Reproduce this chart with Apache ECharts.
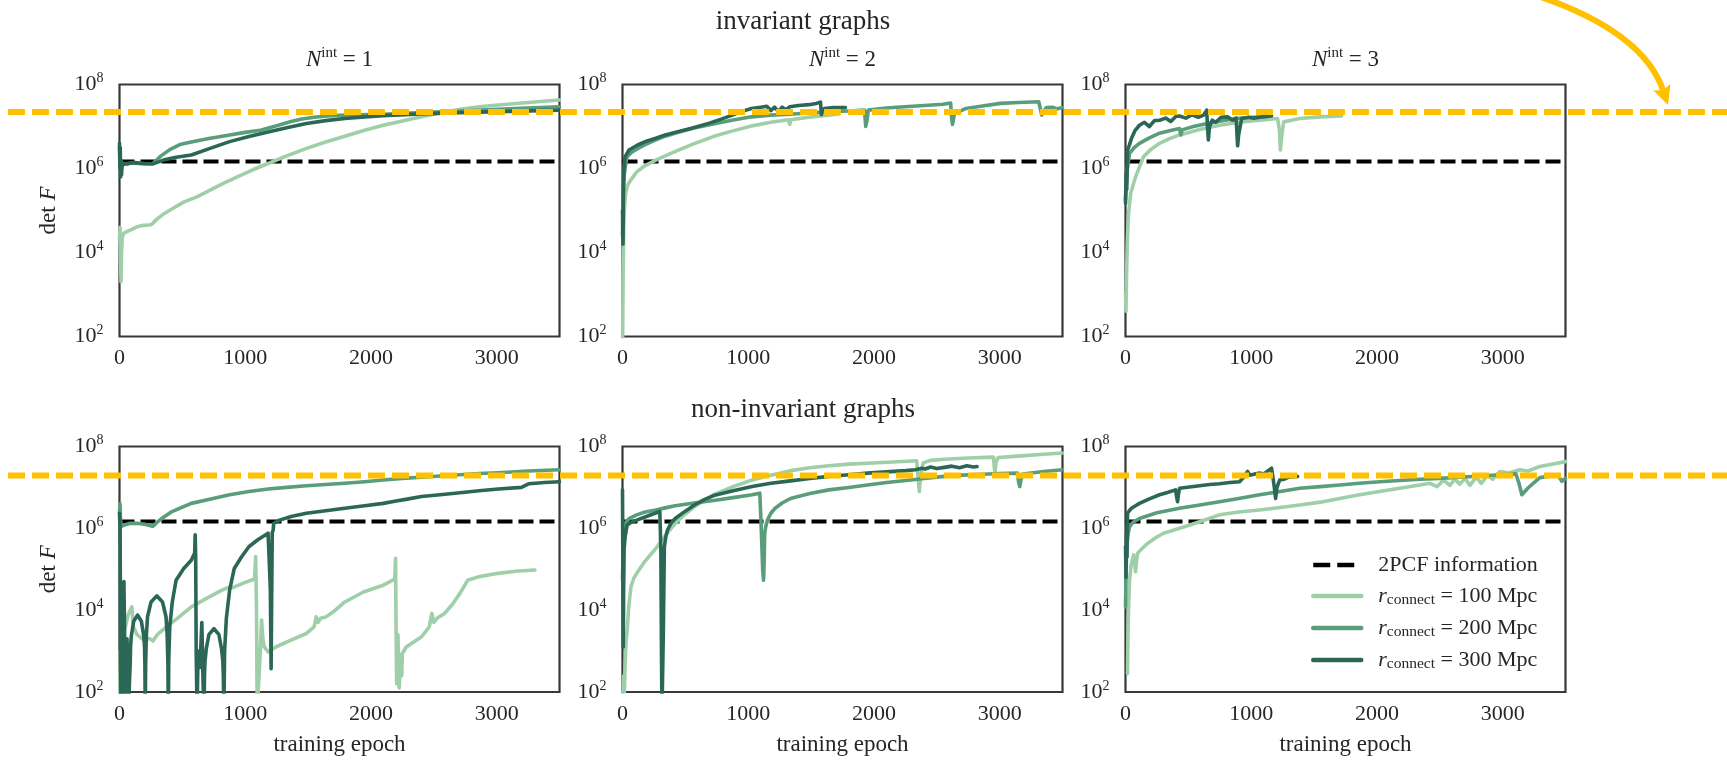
<!DOCTYPE html>
<html><head><meta charset="utf-8">
<script src="https://cdn.jsdelivr.net/npm/echarts/dist/echarts.min.js"></script>
<style>html,body{margin:0;padding:0;background:#fff}#c{width:1727px;height:760px}</style>
</head><body><div id="c"></div>
<script>
// ---------------- DATA (epoch, log10 det F) ----------------
const X_TICKS = [0, 1000, 2000, 3000];
const X_MAX = 3500;
const Y_TICK_EXPONENTS = [2, 4, 6, 8];
const ROW_TITLES = ['invariant graphs', 'non-invariant graphs'];
const N_INT = ['1', '2', '3'];
const SERIES_KEYS = ['r100', 'r200', 'r300'];
const R_CONNECT_MPC = { r100: '100', r200: '200', r300: '300' };
const PCF_NAME = '2PCF information';
const LOG10_2PCF = 6.165;
const LOG10_HIGHLIGHT = [7.345, 7.29]; // yellow dashed reference level, per row

// invariant graphs, N_int = 1
const INV1_R100 = [[0,4.3],[4,4.6],[8,3.9],[12,3.3],[16,4.0],[22,4.35],[30,4.45],[45,4.45],[60,4.5],[98,4.55],[130,4.6],[174,4.64],[250,4.66],[266,4.7],[300,4.8],[357,4.93],[430,5.06],[510,5.2],[620,5.33],[724,5.49],[830,5.65],[937,5.8],[1060,5.97],[1182,6.12],[1330,6.3],[1487,6.48],[1640,6.63],[1792,6.77],[1950,6.91],[2098,7.03],[2250,7.13],[2403,7.23],[2550,7.32],[2708,7.41],[2860,7.47],[3014,7.51],[3250,7.57],[3500,7.63]];
const INV1_R200 = [[0,6.5],[3,6.3],[6,6.0],[10,6.2],[15,6.05],[25,6.12],[60,6.1],[100,6.14],[150,6.12],[200,6.11],[266,6.12],[330,6.3],[400,6.45],[480,6.57],[571,6.63],[700,6.71],[876,6.8],[1000,6.86],[1121,6.91],[1250,7.02],[1365,7.12],[1450,7.18],[1548,7.22],[1650,7.25],[1792,7.27],[2098,7.29],[2400,7.33],[2708,7.37],[3100,7.42],[3500,7.47]];
const INV1_R300 = [[0,6.6],[3,6.0],[6,6.5],[9,5.8],[12,6.2],[16,5.85],[20,6.05],[30,6.1],[60,6.12],[120,6.14],[200,6.12],[266,6.11],[350,6.2],[450,6.27],[571,6.32],[720,6.48],[876,6.64],[1030,6.76],[1182,6.87],[1330,6.97],[1487,7.07],[1640,7.14],[1792,7.19],[1950,7.23],[2098,7.26],[2400,7.3],[2708,7.33],[3100,7.36],[3500,7.39]];

// invariant graphs, N_int = 2
const INV2_R100 = [[0,1.5],[5,3.5],[10,4.6],[16,5.1],[25,5.4],[40,5.6],[67,5.73],[113,5.92],[180,6.07],[265,6.2],[340,6.3],[417,6.4],[560,6.58],[722,6.76],[870,6.89],[1026,7.01],[1180,7.1],[1320,7.16],[1331,7.05],[1340,7.16],[1480,7.22],[1636,7.27],[1720,7.3]];
const INV2_R200 = [[0,4.4],[5,5.3],[10,5.7],[15,5.88],[25,6.1],[37,6.28],[70,6.38],[113,6.46],[180,6.57],[265,6.68],[340,6.77],[417,6.84],[560,6.96],[722,7.06],[870,7.15],[1026,7.23],[1180,7.27],[1331,7.29],[1480,7.32],[1636,7.35],[1800,7.37],[1925,7.39],[1935,7.0],[1945,7.15],[1955,7.39],[2100,7.44],[2245,7.47],[2400,7.5],[2549,7.53],[2610,7.56],[2618,7.2],[2625,7.05],[2640,7.3],[2732,7.43],[2850,7.48],[3006,7.55],[3150,7.57],[3311,7.59],[3325,7.59],[3335,7.27],[3345,7.35],[3372,7.45],[3420,7.46],[3460,7.42],[3500,7.45]];
const INV2_R300 = [[0,5.0],[4,4.2],[8,5.6],[12,6.0],[21,6.28],[52,6.44],[120,6.56],[190,6.65],[265,6.72],[340,6.8],[417,6.86],[550,6.96],[691,7.08],[780,7.17],[874,7.27],[950,7.36],[1026,7.43],[1100,7.46],[1148,7.48],[1180,7.38],[1210,7.46],[1240,7.36],[1270,7.46],[1300,7.4],[1331,7.47],[1400,7.5],[1483,7.52],[1540,7.55],[1575,7.58],[1582,7.28],[1590,7.4],[1606,7.43],[1680,7.45],[1773,7.45]];

// invariant graphs, N_int = 3
const INV3_R100 = [[0,3.0],[4,2.6],[8,3.4],[14,4.2],[22,4.85],[41,5.41],[80,5.8],[143,6.28],[200,6.45],[271,6.6],[350,6.71],[430,6.8],[590,6.93],[748,7.03],[900,7.1],[1067,7.15],[1210,7.19],[1225,6.9],[1232,6.44],[1240,6.7],[1258,7.11],[1320,7.15],[1385,7.19],[1550,7.23],[1720,7.25]];
const INV3_R200 = [[0,5.25],[6,5.6],[15,6.0],[32,6.36],[70,6.5],[111,6.6],[190,6.73],[271,6.84],[350,6.9],[430,6.95],[440,6.8],[450,6.92],[540,7.0],[653,7.07],[760,7.13],[876,7.19],[970,7.21],[1067,7.23],[1130,7.24]];
const INV3_R300 = [[0,5.17],[5,5.9],[10,5.5],[16,6.44],[30,6.55],[48,6.72],[75,6.9],[111,7.03],[150,7.1],[190,7.0],[230,7.14],[271,7.15],[320,7.2],[360,7.12],[400,7.24],[430,7.25],[480,7.2],[530,7.28],[580,7.22],[621,7.27],[646,7.39],[652,7.0],[659,6.68],[668,7.0],[690,7.15],[717,7.1],[760,7.22],[812,7.23],[850,7.15],[880,7.2],[892,6.54],[900,6.8],[924,7.19],[980,7.22],[1020,7.2],[1067,7.22],[1120,7.24],[1162,7.25]];

// non-invariant graphs, N_int = 1
const NON1_R100 = [[0,1.5],[5,3.0],[10,1.5],[16,3.3],[25,2.8],[40,3.5],[70,3.9],[98,4.08],[110,3.6],[140,3.4],[180,3.3],[205,3.31],[240,3.3],[266,3.25],[300,3.4],[357,3.55],[460,3.8],[571,4.08],[700,4.3],[815,4.49],[876,4.57],[900,4.55],[1000,4.68],[1075,4.76],[1083,5.31],[1090,4.0],[1095,1.5],[1110,1.5],[1120,3.0],[1130,3.76],[1140,3.3],[1151,3.1],[1182,2.98],[1243,3.1],[1350,3.25],[1487,3.43],[1548,3.59],[1565,3.84],[1579,3.7],[1600,3.8],[1640,3.83],[1701,3.96],[1792,4.2],[1945,4.45],[2098,4.61],[2189,4.76],[2196,5.27],[2200,3.5],[2205,2.2],[2215,3.4],[2225,2.1],[2235,2.9],[2245,2.4],[2250,2.94],[2281,3.1],[2403,3.35],[2464,3.59],[2485,3.92],[2500,3.7],[2525,3.8],[2586,3.92],[2650,4.15],[2708,4.41],[2769,4.73],[2861,4.82],[3014,4.9],[3150,4.95],[3304,4.98]];
const NON1_R200 = [[0,6.37],[4,6.6],[8,6.2],[15,6.05],[37,6.08],[80,6.12],[150,6.12],[200,6.1],[250,6.06],[266,6.05],[300,6.15],[350,6.27],[418,6.41],[500,6.52],[571,6.61],[700,6.7],[876,6.82],[1030,6.9],[1182,6.96],[1330,7.0],[1487,7.04],[1640,7.07],[1792,7.1],[1950,7.14],[2098,7.18],[2250,7.22],[2403,7.25],[2550,7.28],[2708,7.31],[2860,7.34],[3014,7.36],[3250,7.4],[3500,7.43]];
const NON1_R300 = [[0,6.37],[5,6.0],[9,2.5],[13,1.5],[20,3.0],[28,1.5],[35,4.7],[42,3.0],[50,1.5],[60,3.3],[70,1.5],[82,1.5],[85,2.7],[88,3.1],[94,3.37],[113,3.73],[143,3.88],[174,3.73],[193,3.37],[199,3.1],[202,2.7],[205,1.5],[208,2.7],[214,3.4],[223,3.84],[251,4.2],[296,4.35],[342,4.2],[370,3.84],[379,3.4],[385,2.7],[388,1.5],[392,2.8],[400,3.6],[420,4.2],[450,4.73],[511,5.02],[571,5.22],[598,5.4],[602,5.84],[606,5.3],[610,3.0],[617,1.5],[625,3.0],[640,2.6],[655,3.7],[665,2.2],[672,1.5],[676,2.4],[680,2.75],[690,3.05],[711,3.4],[751,3.55],[791,3.4],[812,3.05],[822,2.75],[826,2.4],[830,1.5],[836,3.0],[850,3.8],[876,4.49],[913,5.02],[970,5.3],[1029,5.55],[1100,5.72],[1182,5.88],[1195,5.92],[1200,4.5],[1206,2.57],[1211,4.5],[1215,5.9],[1222,5.95],[1227,6.12],[1240,6.15],[1273,6.2],[1365,6.29],[1487,6.37],[1640,6.43],[1792,6.49],[1950,6.55],[2098,6.61],[2189,6.66],[2300,6.72],[2403,6.78],[2550,6.82],[2708,6.87],[2860,6.92],[3014,6.96],[3197,7.0],[3258,7.09],[3380,7.12],[3500,7.14]];

// non-invariant graphs, N_int = 2
const NON2_R100 = [[0,1.5],[5,2.0],[10,2.4],[15,2.0],[20,2.6],[28,3.2],[37,3.51],[50,4.1],[67,4.57],[90,4.78],[113,4.9],[180,5.2],[266,5.51],[340,5.82],[419,6.12],[500,6.35],[572,6.53],[650,6.68],[725,6.82],[880,7.02],[1031,7.18],[1180,7.3],[1336,7.41],[1490,7.48],[1642,7.53],[1800,7.57],[1948,7.59],[2150,7.62],[2340,7.65],[2350,7.3],[2361,6.9],[2372,7.3],[2392,7.6],[2450,7.66],[2560,7.69],[2750,7.72],[2951,7.74],[2957,7.5],[2963,7.36],[2970,7.6],[2988,7.73],[3171,7.77],[3350,7.81],[3500,7.84]];
const NON2_R200 = [[0,4.73],[5,5.6],[10,5.95],[21,6.12],[52,6.24],[113,6.33],[180,6.4],[266,6.45],[340,6.5],[419,6.55],[570,6.62],[725,6.68],[880,6.75],[1031,6.82],[1092,6.86],[1100,6.3],[1107,5.71],[1115,5.0],[1122,4.73],[1127,5.2],[1131,5.88],[1140,6.05],[1153,6.2],[1180,6.37],[1214,6.49],[1270,6.62],[1336,6.73],[1490,6.85],[1642,6.94],[1800,7.0],[1948,7.06],[2100,7.12],[2254,7.17],[2400,7.22],[2560,7.27],[2700,7.3],[2865,7.32],[3000,7.34],[3141,7.35],[3150,7.15],[3160,7.02],[3171,7.2],[3185,7.33],[3350,7.39],[3500,7.43]];
const NON2_R300 = [[0,6.94],[3,5.0],[6,3.1],[9,4.5],[13,5.5],[21,5.8],[37,6.08],[70,6.15],[113,6.2],[200,6.3],[297,6.41],[305,5.5],[310,3.0],[314,1.5],[321,1.5],[325,3.5],[333,5.55],[345,5.8],[358,5.96],[385,6.12],[419,6.24],[500,6.42],[572,6.57],[650,6.7],[725,6.8],[880,6.92],[1031,7.02],[1180,7.1],[1336,7.16],[1490,7.22],[1642,7.27],[1800,7.31],[1948,7.35],[2100,7.38],[2254,7.41],[2330,7.43],[2380,7.47],[2407,7.45],[2450,7.5],[2500,7.46],[2560,7.49],[2620,7.52],[2680,7.48],[2740,7.53],[2790,7.5],[2820,7.51]];

// non-invariant graphs, N_int = 3
const NON3_R100 = [[16,2.45],[20,3.5],[26,4.2],[32,4.73],[45,5.1],[64,5.35],[72,5.2],[80,4.94],[88,5.2],[96,5.39],[130,5.5],[175,5.63],[240,5.77],[303,5.88],[450,6.02],[589,6.16],[748,6.33],[900,6.4],[1067,6.45],[1230,6.51],[1385,6.57],[1550,6.64],[1704,6.73],[1860,6.82],[2022,6.9],[2180,6.98],[2341,7.06],[2420,7.1],[2480,7.02],[2530,7.18],[2580,7.05],[2620,7.2],[2659,7.08],[2700,7.22],[2740,7.05],[2790,7.25],[2830,7.1],[2880,7.3],[2920,7.2],[2978,7.39],[3050,7.35],[3137,7.43],[3200,7.4],[3296,7.51],[3400,7.57],[3500,7.63]];
const NON3_R200 = [[0,4.08],[5,5.0],[10,5.55],[20,5.85],[32,6.04],[60,6.15],[111,6.24],[250,6.38],[430,6.49],[590,6.57],[748,6.65],[900,6.73],[1067,6.82],[1230,6.9],[1385,6.98],[1550,7.02],[1704,7.06],[1860,7.1],[2022,7.14],[2180,7.17],[2341,7.2],[2500,7.22],[2659,7.25],[2820,7.28],[2978,7.31],[3105,7.33],[3130,7.1],[3153,6.82],[3200,6.98],[3250,7.12],[3296,7.24],[3360,7.27],[3424,7.31],[3450,7.25],[3471,7.15],[3490,7.2],[3500,7.22]];
const NON3_R300 = [[0,5.55],[4,4.8],[8,5.9],[12,5.3],[16,6.37],[30,6.43],[48,6.49],[80,6.55],[111,6.61],[190,6.72],[271,6.82],[340,6.88],[398,6.94],[405,6.8],[414,6.65],[422,6.85],[430,6.98],[510,7.01],[589,7.04],[670,7.07],[748,7.09],[830,7.12],[907,7.14],[940,7.25],[971,7.39],[990,7.3],[1020,7.32],[1067,7.35],[1100,7.33],[1140,7.42],[1162,7.47],[1175,7.2],[1186,6.95],[1194,6.73],[1205,7.0],[1226,7.18],[1260,7.2],[1300,7.25],[1369,7.27]];

const PANEL_DATA = [
  { r100: INV1_R100, r200: INV1_R200, r300: INV1_R300 },
  { r100: INV2_R100, r200: INV2_R200, r300: INV2_R300 },
  { r100: INV3_R100, r200: INV3_R200, r300: INV3_R300 },
  { r100: NON1_R100, r200: NON1_R200, r300: NON1_R300 },
  { r100: NON2_R100, r200: NON2_R200, r300: NON2_R300 },
  { r100: NON3_R100, r200: NON3_R200, r300: NON3_R300 }
];

// ---------------- STYLE / LAYOUT ----------------
const FONT = '"Liberation Serif", "Times New Roman", "DejaVu Serif", serif';
const TXT = '#262626';
const COLORS = { r100: '#9fcfa8', r200: '#599d7b', r300: '#2b6756' };
const GRID_LEFT = [119.5, 622.5, 1125.5];
const GRID_W = 440;
const GRID_TOP = [84.5, 446.5];
const GRID_H = [252, 245.5];

const chart = echarts.init(document.getElementById('c'), null, { renderer: 'canvas' });

const grids = [], xAxes = [], yAxes = [], series = [];
for (let i = 0; i < 6; i++) {
  const row = Math.floor(i / 3), col = i % 3;
  grids.push({ left: GRID_LEFT[col], top: GRID_TOP[row], width: GRID_W, height: GRID_H[row],
    show: true, borderColor: '#383838', borderWidth: 2.2, backgroundColor: 'transparent', containLabel: false });
  xAxes.push({ type: 'value', gridIndex: i, min: 0, max: X_MAX, interval: 1000,
    axisLine: { show: false }, axisTick: { show: false }, splitLine: { show: false },
    axisLabel: { margin: 11, fontFamily: FONT, fontSize: 22, color: TXT,
      formatter: v => X_TICKS.indexOf(v) >= 0 ? String(v) : '' } });
  yAxes.push({ type: 'log', logBase: 10, gridIndex: i, min: 100, max: 1e8,
    axisLine: { show: false }, axisTick: { show: false }, splitLine: { show: false },
    axisLabel: { margin: 16, fontFamily: FONT, color: TXT,
      formatter: v => { const e = Math.round(Math.log10(v)); return Y_TICK_EXPONENTS.indexOf(e) >= 0 ? '{b|10}{s|' + e + '}' : ''; },
      rich: { b: { fontFamily: FONT, fontSize: 22, color: TXT }, s: { fontFamily: FONT, fontSize: 14, color: TXT, padding: [0, 0, 12, 0] } } } });

  series.push({ name: PCF_NAME, type: 'line', xAxisIndex: i, yAxisIndex: i, symbol: 'none', silent: true,
    data: [[0, Math.pow(10, LOG10_2PCF)], [X_MAX, Math.pow(10, LOG10_2PCF)]],
    lineStyle: { color: '#000', width: 4, type: [15, 6] }, itemStyle: { color: '#000' }, z: 2 });
  SERIES_KEYS.forEach((k, j) => {
    series.push({ name: k, type: 'line', xAxisIndex: i, yAxisIndex: i, symbol: 'none', silent: true,
      data: PANEL_DATA[i][k].map(p => [p[0], Math.pow(10, p[1])]),
      lineStyle: { color: COLORS[k], width: 3.6, join: 'round', cap: 'round' }, itemStyle: { color: COLORS[k] },
      z: 3 + j, clip: true });
  });
}

const option = {
  animation: false,
  backgroundColor: '#fff',
  grid: grids, xAxis: xAxes, yAxis: yAxes, series: series,
  legend: {
    data: [
      { name: PCF_NAME, lineStyle: { width: 4.5, type: [17, 7], color: '#000' } },
      { name: 'r100', lineStyle: { width: 4.5, color: COLORS.r100 } },
      { name: 'r200', lineStyle: { width: 4.5, color: COLORS.r200 } },
      { name: 'r300', lineStyle: { width: 4.5, color: COLORS.r300 } }
    ],
    orient: 'vertical', left: 1306, top: 549, itemWidth: 48, itemHeight: 12, itemGap: 9,
    selectedMode: false,
    itemStyle: { opacity: 0, color: 'rgba(0,0,0,0)', borderWidth: 0 },
    formatter: name => R_CONNECT_MPC[name] ? '{r|r}{sub|connect}{t| = ' + R_CONNECT_MPC[name] + ' Mpc}' : '{t|' + name + '}',
    textStyle: { fontFamily: FONT, fontSize: 22, color: TXT, padding: [0, 0, 0, 12],
      rich: {
        r: { fontFamily: FONT, fontSize: 22, fontStyle: 'italic', color: TXT },
        sub: { fontFamily: FONT, fontSize: 15.5, color: TXT, padding: [8, 0, 0, 0] },
        t: { fontFamily: FONT, fontSize: 22, color: TXT }
      } }
  }
};
chart.setOption(option);

// ---------------- TEXT & ANNOTATIONS ----------------
const gfx = [];
const colCenter = c => GRID_LEFT[c] + GRID_W / 2;
const rowMid = r => GRID_TOP[r] + GRID_H[r] / 2;
gfx.push({ type: 'text', x: 803, y: 22, style: { text: ROW_TITLES[0], fontFamily: FONT, fontSize: 27, fill: TXT, align: 'center', verticalAlign: 'middle' } });
gfx.push({ type: 'text', x: 803, y: 410, style: { text: ROW_TITLES[1], fontFamily: FONT, fontSize: 27, fill: TXT, align: 'center', verticalAlign: 'middle' } });
N_INT.forEach((n, c) => {
  gfx.push({ type: 'text', x: colCenter(c), y: 60, style: {
    text: '{n|N}{s|int}{t| = ' + n + '}', align: 'center', verticalAlign: 'middle', fill: TXT,
    rich: { n: { fontFamily: FONT, fontSize: 23, fontStyle: 'italic', fill: TXT },
            s: { fontFamily: FONT, fontSize: 15, fill: TXT, padding: [0, 0, 14, 0] },
            t: { fontFamily: FONT, fontSize: 23, fill: TXT } } } });
  gfx.push({ type: 'text', x: colCenter(c), y: 745, style: { text: 'training epoch', fontFamily: FONT, fontSize: 23, fill: TXT, align: 'center', verticalAlign: 'middle' } });
});
[0, 1].forEach(r => {
  gfx.push({ type: 'text', x: 49, y: rowMid(r), rotation: Math.PI / 2, style: {
    text: '{d|det }{f|F}', align: 'center', verticalAlign: 'middle', fill: TXT,
    rich: { d: { fontFamily: FONT, fontSize: 23, fill: TXT }, f: { fontFamily: FONT, fontSize: 23, fontStyle: 'italic', fill: TXT } } } });
});
// yellow highlight level lines, positioned through the axis scale
[0, 1].forEach(r => {
  const y = chart.convertToPixel({ xAxisIndex: r * 3, yAxisIndex: r * 3 }, [0, Math.pow(10, LOG10_HIGHLIGHT[r])])[1];
  gfx.push({ type: 'line', z: 100, shape: { x1: 8, y1: y, x2: 1727, y2: y },
    style: { stroke: '#FFC000', lineWidth: 6, lineDash: [17, 7] } });
});
// curved arrow
gfx.push({ type: 'bezierCurve', z: 100, shape: { x1: 1532, y1: -6, cpx1: 1642, cpy1: 30, x2: 1663, y2: 90 },
  style: { stroke: '#FFC000', lineWidth: 6, fill: null } });
gfx.push({ type: 'polygon', z: 101, shape: { points: [[1668, 105], [1653.5, 90.5], [1663, 90], [1670.5, 84]] },
  style: { fill: '#FFC000' } });
chart.setOption({ graphic: gfx });
</script></body></html>
